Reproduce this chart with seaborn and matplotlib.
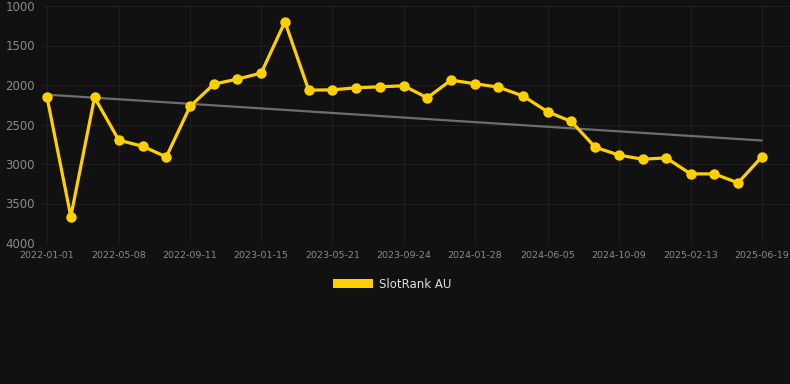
import pandas as pd
import numpy as np
import seaborn as sns
import matplotlib.pyplot as plt
import matplotlib.dates as mdates
from matplotlib.patches import Patch

# data
dates = ['2022-01-01', '2022-02-12', '2022-03-26', '2022-05-08', '2022-06-19', '2022-07-31',
         '2022-09-11', '2022-10-23', '2022-12-04', '2023-01-15', '2023-02-26', '2023-04-09',
         '2023-05-21', '2023-07-02', '2023-08-13', '2023-09-24', '2023-11-05', '2023-12-17',
         '2024-01-28', '2024-03-10', '2024-04-23', '2024-06-05', '2024-07-17', '2024-08-28',
         '2024-10-09', '2024-11-20', '2025-01-01', '2025-02-13', '2025-03-27', '2025-05-08',
         '2025-06-19']
ranks = [2158, 3665, 2158, 2699, 2775, 2910, 2272, 1989, 1925, 1849, 1199, 2065,
         2061, 2035, 2023, 2010, 2162, 1938, 1984, 2027, 2141, 2339, 2462, 2787,
         2887, 2939, 2923, 3125, 3125, 3239, 2910]
tick_labels = dates[::3]
series_name = 'SlotRank AU'

df = pd.DataFrame({'Date': pd.to_datetime(dates), 'Rank': ranks})

# linear trend over the whole period
x_num = mdates.date2num(df['Date'])
slope, intercept = np.polyfit(x_num, df['Rank'], 1)
df['Trend'] = slope * x_num + intercept

bg = '#111111'
grid_col = '#1f1f1f'
sns.set_theme(style='dark')
plt.rcParams['font.family'] = ['DejaVu Sans']

fig = plt.figure(figsize=(7.9, 3.84), dpi=100, facecolor=bg)
ax = fig.add_axes([42 / 790, 1 - 243 / 384, 748 / 790, 237 / 384])
ax.set_facecolor(bg)

sns.lineplot(data=df, x='Date', y='Trend', ax=ax, color='#6e6e6e', linewidth=1.6, zorder=2)
sns.lineplot(data=df, x='Date', y='Rank', ax=ax, color='#FFD000', linewidth=2.3,
             marker='o', markersize=7.5, markeredgewidth=0, zorder=3)

ax.set_ylim(4000, 1000)
ax.set_yticks([1000, 1500, 2000, 2500, 3000, 3500, 4000])
start = df['Date'].min()
end = df['Date'].max()
ax.set_xlim(start - pd.Timedelta(days=9), end + pd.Timedelta(days=50))
ax.set_xticks(pd.to_datetime(tick_labels))
ax.set_xticklabels(tick_labels)

ax.grid(True, color=grid_col, linewidth=0.8)
for s in ax.spines.values():
    s.set_visible(False)
ax.tick_params(axis='y', colors='#8a8a8a', labelsize=8.5, length=0, pad=5)
ax.tick_params(axis='x', colors='#8a8a8a', labelsize=6.8, length=4, color=grid_col, pad=2)
ax.set_xlabel('')
ax.set_ylabel('')

fig.legend(handles=[Patch(facecolor='#FFD000', edgecolor='none', label=series_name)],
           loc='center', bbox_to_anchor=(392 / 790, 1 - 284 / 384), frameon=False,
           fontsize=8.5, labelcolor='#dddddd', handlelength=3.4, handleheight=0.85,
           handletextpad=0.5)

fig.savefig('out.png', dpi=100, facecolor=bg)
